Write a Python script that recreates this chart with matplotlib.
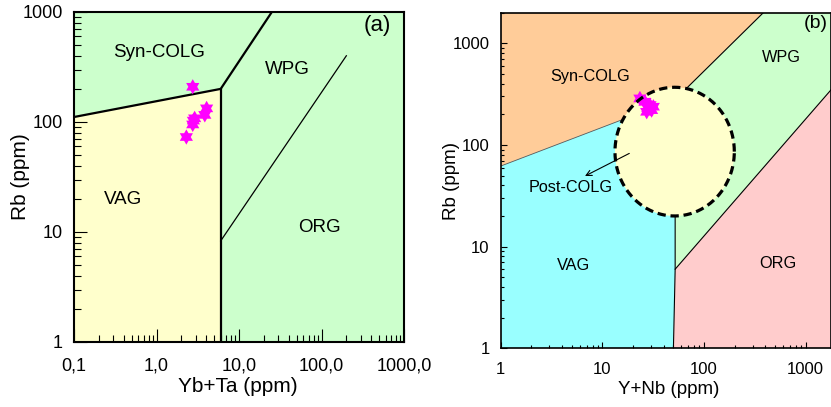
import numpy as np
import matplotlib
matplotlib.use("Agg")
import matplotlib.pyplot as plt
from matplotlib.ticker import LogLocator, FixedLocator, FixedFormatter, NullFormatter

plt.rcParams['font.family'] = ['Liberation Sans', 'DejaVu Sans']

# ---- panel (a): Rb vs Yb+Ta ----
a_xticks = [0.1, 1, 10, 100, 1000]
a_xticklabels = ["0,1", "1,0", "10,0", "100,0", "1000,0"]
a_yticks = [1, 10, 100, 1000]
a_yticklabels = ["1", "10", "100", "1000"]
a_vag_x = [0.1, 0.1, 6, 6]
a_vag_y = [1, 111, 200, 1]
a_syn_line_x = [0.1, 6, 25]          # syn-COLG lower/right boundary
a_syn_line_y = [111, 200, 1000]
a_vert_x = [6, 6]
a_vert_y = [1, 200]
a_org_line_x = [6, 200]
a_org_line_y = [8.3, 400]
a_samples_x = [2.75, 2.8, 2.75, 2.9, 4.05, 3.85, 2.3]
a_samples_y = [209, 103, 95, 108, 133, 116, 73]
a_labels = ["Syn-COLG", "WPG", "VAG", "ORG"]
a_label_x = [1.06, 38.5, 0.39, 94]
a_label_y = [430, 300, 19.8, 10.9]

# ---- panel (b): Rb vs Y+Nb ----
b_ticks = [1, 10, 100, 1000]
b_ticklabels = ["1", "10", "100", "1000"]
b_syn_x = [1, 1, 383, 52]
b_syn_y = [62, 2000, 2000, 280]
b_vag_x = [1, 1, 52, 52, 50]
b_vag_y = [1, 62, 280, 6, 1]
b_wpg_x = [52, 383, 2000, 2000, 52]
b_wpg_y = [280, 2000, 2000, 400, 6]
b_org_x = [50, 52, 2000, 2000]
b_org_y = [1, 6, 400, 1]
b_postcolg_center = (51.4, 86)      # ellipse centre
b_postcolg_radius = (0.587, 0.633)  # half axes in decades
b_samples_x = [23.4, 29.4, 30.5, 27.3, 26.2, 31.7, 28.0]
b_samples_y = [287, 247, 220, 212, 266, 238, 230]
b_labels = ["Syn-COLG", "WPG", "VAG", "ORG"]
b_label_x = [7.55, 580, 5.18, 530]
b_label_y = [476, 727, 6.45, 6.85]

c_green = "#CCFFCC"
c_yellow = "#FFFFCC"
c_orange = "#FFCC99"
c_cyan = "#99FFFF"
c_pink = "#FFCCCC"
c_star = "#FF00FF"

# six pointed star marker
ang = np.pi / 2 + np.arange(12) * np.pi / 6
rad = np.where(np.arange(12) % 2 == 0, 1.0, 0.58)
star = list(zip(rad * np.cos(ang), rad * np.sin(ang)))

fig = plt.figure(figsize=(8.31, 4.07), dpi=100)

# panel (a)
ax1 = fig.add_axes([74 / 831, 65 / 407, 330 / 831, 330 / 407])
ax1.set_xscale("log")
ax1.set_yscale("log")
ax1.set_xlim(0.1, 1000)
ax1.set_ylim(1, 1000)
ax1.set_facecolor(c_green)
ax1.fill(a_vag_x, a_vag_y, color=c_yellow, lw=0, zorder=1)
ax1.plot(a_syn_line_x, a_syn_line_y, color="k", lw=1.6, zorder=2)
ax1.plot(a_vert_x, a_vert_y, color="k", lw=1.6, zorder=2)
ax1.plot(a_org_line_x, a_org_line_y, color="k", lw=0.9, zorder=2)
ax1.scatter(a_samples_x, a_samples_y, marker=star, s=120, color=c_star,
            edgecolors="none", zorder=4)
for t, x, y in zip(a_labels, a_label_x, a_label_y):
    ax1.text(x, y, t, ha="center", va="center", fontsize=13.5)
ax1.text(480, 750, "(a)", ha="center", va="center", fontsize=16)

ax1.xaxis.set_major_locator(FixedLocator(a_xticks))
ax1.xaxis.set_major_formatter(FixedFormatter(a_xticklabels))
ax1.yaxis.set_major_locator(FixedLocator(a_yticks))
ax1.yaxis.set_major_formatter(FixedFormatter(a_yticklabels))
for axis in (ax1.xaxis, ax1.yaxis):
    axis.set_minor_locator(LogLocator(base=10, subs=np.arange(2, 10)))
    axis.set_minor_formatter(NullFormatter())
ax1.tick_params(which="major", direction="in", length=9.5, width=0.8, labelsize=13)
ax1.tick_params(axis="x", which="major", pad=11)
ax1.tick_params(axis="y", which="major", pad=8)
ax1.tick_params(which="minor", direction="in", length=5, width=0.8)
for s in ax1.spines.values():
    s.set_linewidth(1.5)
ax1.set_xlabel("Yb+Ta (ppm)", fontsize=15, va="center")
ax1.set_ylabel("Rb (ppm)", fontsize=15, va="center")
ax1.xaxis.set_label_coords(0.495, -0.135)
ax1.yaxis.set_label_coords(-0.162, 0.5)

# panel (b)
ax2 = fig.add_axes([500.7 / 831, 58.7 / 407, 329.8 / 831, 335.6 / 407])
ax2.set_xscale("log")
ax2.set_yscale("log")
ax2.set_xlim(1, 1754)
ax2.set_ylim(1, 2000)
ax2.fill(b_syn_x, b_syn_y, color=c_orange, lw=0, zorder=1)
ax2.fill(b_vag_x, b_vag_y, color=c_cyan, lw=0, zorder=1)
ax2.fill(b_wpg_x, b_wpg_y, color=c_green, lw=0, zorder=1)
ax2.fill(b_org_x, b_org_y, color=c_pink, lw=0, zorder=1)
ax2.plot([b_syn_x[0], b_syn_x[3]], [b_syn_y[0], b_syn_y[3]], color="#555555", lw=0.6, zorder=2)
ax2.plot([b_syn_x[3], b_syn_x[2]], [b_syn_y[3], b_syn_y[2]], color="k", lw=0.8, zorder=2)
ax2.plot(b_vag_x[2:], b_vag_y[2:], color="k", lw=0.8, zorder=2)
ax2.plot([b_org_x[1], b_org_x[2]], [b_org_y[1], b_org_y[2]], color="k", lw=0.8, zorder=2)

t = np.linspace(0, 2 * np.pi, 300)
ex = 10 ** (np.log10(b_postcolg_center[0]) + b_postcolg_radius[0] * np.cos(t))
ey = 10 ** (np.log10(b_postcolg_center[1]) + b_postcolg_radius[1] * np.sin(t))
ax2.fill(ex, ey, color=c_yellow, lw=0, zorder=3)
ax2.scatter(b_samples_x, b_samples_y, marker=star, s=120, color=c_star,
            edgecolors="none", zorder=4)
ax2.plot(ex, ey, color="k", lw=2.3, ls=(0, (2.6, 1.5)), zorder=5)

ax2.annotate("", xy=(6.75, 49.5), xytext=(18.4, 82.6),
             arrowprops=dict(arrowstyle="->", lw=0.8, color="k",
                             shrinkA=0, shrinkB=0), zorder=6)
ax2.text(4.9, 38.3, "Post-COLG", ha="center", va="center", fontsize=11.7)
for tx, x, y in zip(b_labels, b_label_x, b_label_y):
    ax2.text(x, y, tx, ha="center", va="center", fontsize=11.7)
ax2.text(1250, 1550, "(b)", ha="center", va="center", fontsize=14)

for axis in (ax2.xaxis, ax2.yaxis):
    axis.set_major_locator(FixedLocator(b_ticks))
    axis.set_major_formatter(FixedFormatter(b_ticklabels))
    axis.set_minor_locator(LogLocator(base=10, subs=np.arange(2, 10)))
    axis.set_minor_formatter(NullFormatter())
ax2.tick_params(which="major", direction="in", length=4.5, width=0.8, labelsize=12)
ax2.tick_params(axis="x", which="major", pad=10)
ax2.tick_params(axis="y", which="major", pad=8)
ax2.tick_params(which="minor", direction="in", length=2.3, width=0.8)
for s in ax2.spines.values():
    s.set_linewidth(1.2)
    s.set_zorder(7)
ax2.set_xlabel("Y+Nb (ppm)", fontsize=13.5, va="center")
ax2.set_ylabel("Rb (ppm)", fontsize=13.5, va="center")
ax2.xaxis.set_label_coords(0.508, -0.124)
ax2.yaxis.set_label_coords(-0.149, 0.5)

fig.savefig("out.png", dpi=100)
